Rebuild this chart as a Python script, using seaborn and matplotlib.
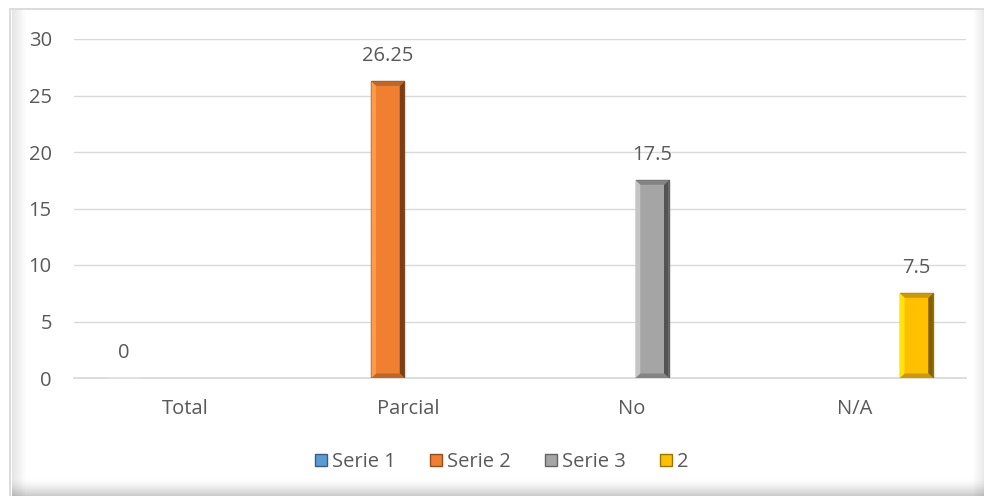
import pandas as pd
import matplotlib.pyplot as plt
import seaborn as sns
from matplotlib.patches import Rectangle, Polygon

# Chart data
categories = ["Total", "Parcial", "No", "N/A"]
series = ["Serie 1", "Serie 2", "Serie 3", "2"]
values = [0, 26.25, 17.5, 7.5]
colors = ["#5B9BD5", "#F07F32", "#A5A5A5", "#FFC000"]

df = pd.DataFrame({"Categoria": categories, "Serie": series, "Valor": values})

sns.set_theme(style="white")
plt.rcParams["font.family"] = ["Open Sans", "DejaVu Sans"]
text_color = "#595959"
fs = 14.5

W, H = 984, 496
fig = plt.figure(figsize=(9.84, 4.96), dpi=100)
fig.patch.set_facecolor("white")


def frame_rect(x0, y0, w, h, **kw):
    # rectangle given in pixel coords from the top-left corner
    fig.patches.append(Rectangle((x0 / W, 1 - (y0 + h) / H), w / W, h / H,
                                 transform=fig.transFigure, **kw))


# chart frame: thin border plus soft inner shadows (left, right, bottom)
frame_rect(10, 9, 990, 500, facecolor="white", edgecolor="#D6D6D6", linewidth=1.2, zorder=-5)
for i in range(14):
    a = 0.10 * (1 - i / 14)
    frame_rect(12 + i, 10, 1, 486, facecolor="black", edgecolor="none", alpha=a, zorder=-4)
for i in range(12):
    a = 0.09 * (i / 12)
    frame_rect(972 + i, 10, 1, 486, facecolor="black", edgecolor="none", alpha=a, zorder=-4)
for i in range(18):
    a = 0.22 * (i / 18) ** 1.5
    frame_rect(12, 478 + i, 972, 1, facecolor="black", edgecolor="none", alpha=a, zorder=-4)

ax = fig.add_axes([74 / W, 1 - 378 / H, 892 / W, 339 / H])
ax.set_facecolor("none")

sns.barplot(data=df, x="Categoria", y="Valor", hue="Serie", order=categories,
            hue_order=series, palette=colors, width=0.74, gap=0.2, dodge=True,
            saturation=1, ax=ax, zorder=3, legend=True)

# bevel look on each bar
for patch in ax.patches:
    x, y = patch.get_x(), patch.get_y()
    w, h = patch.get_width(), patch.get_height()
    if h <= 0:
        continue
    base = patch.get_facecolor()
    dark = [c * 0.5 for c in base[:3]]
    mid = [c * 0.8 for c in base[:3]]
    light = [min(1, c * 1.1 + 0.06) for c in base[:3]]
    patch.set_edgecolor([c * 0.6 for c in base[:3]])
    patch.set_linewidth(1.0)
    ix = w * 0.14
    iy = 0.4
    ax.add_patch(Polygon([(x + w, y), (x + w, y + h), (x + w - ix, y + h - iy), (x + w - ix, y + iy)],
                         closed=True, facecolor=dark, edgecolor="none", zorder=4))
    ax.add_patch(Polygon([(x, y), (x + w, y), (x + w - ix, y + iy), (x + ix, y + iy)],
                         closed=True, facecolor=mid, edgecolor="none", zorder=4))
    ax.add_patch(Polygon([(x, y + h), (x + w, y + h), (x + w - ix, y + h - iy), (x + ix, y + h - iy)],
                         closed=True, facecolor=mid, edgecolor="none", zorder=4))
    ax.add_patch(Polygon([(x, y), (x, y + h), (x + ix, y + h - iy), (x + ix, y + iy)],
                         closed=True, facecolor=light, edgecolor="none", zorder=4))

for cont in ax.containers:
    ax.bar_label(cont, fmt="%g", padding=11, fontsize=fs, color=text_color)

ax.set_ylim(0, 30)
ax.set_yticks(range(0, 31, 5))
ax.yaxis.grid(True, color="#D9D9D9", linewidth=1)
ax.set_axisbelow(True)
for s in ["top", "right", "left"]:
    ax.spines[s].set_visible(False)
ax.spines["bottom"].set_color("#D9D9D9")
ax.tick_params(axis="y", length=0, pad=16, labelsize=fs, labelcolor=text_color)
ax.tick_params(axis="x", length=0, pad=15, labelsize=fs, labelcolor=text_color)
ax.set_xlabel("")
ax.set_ylabel("")

handles, labels = ax.get_legend_handles_labels()
for hnd in handles:
    hnd.set_edgecolor([c * 0.6 for c in hnd.get_facecolor()[:3]])
ax.legend(handles, labels, loc="center", bbox_to_anchor=(0.51, 1 - 462 / H),
          bbox_transform=fig.transFigure, ncol=4, frameon=False, fontsize=fs,
          handlelength=0.6, handleheight=0.6, handletextpad=0.25, columnspacing=1.7,
          labelcolor=text_color)

plt.savefig("out.png", dpi=100)
